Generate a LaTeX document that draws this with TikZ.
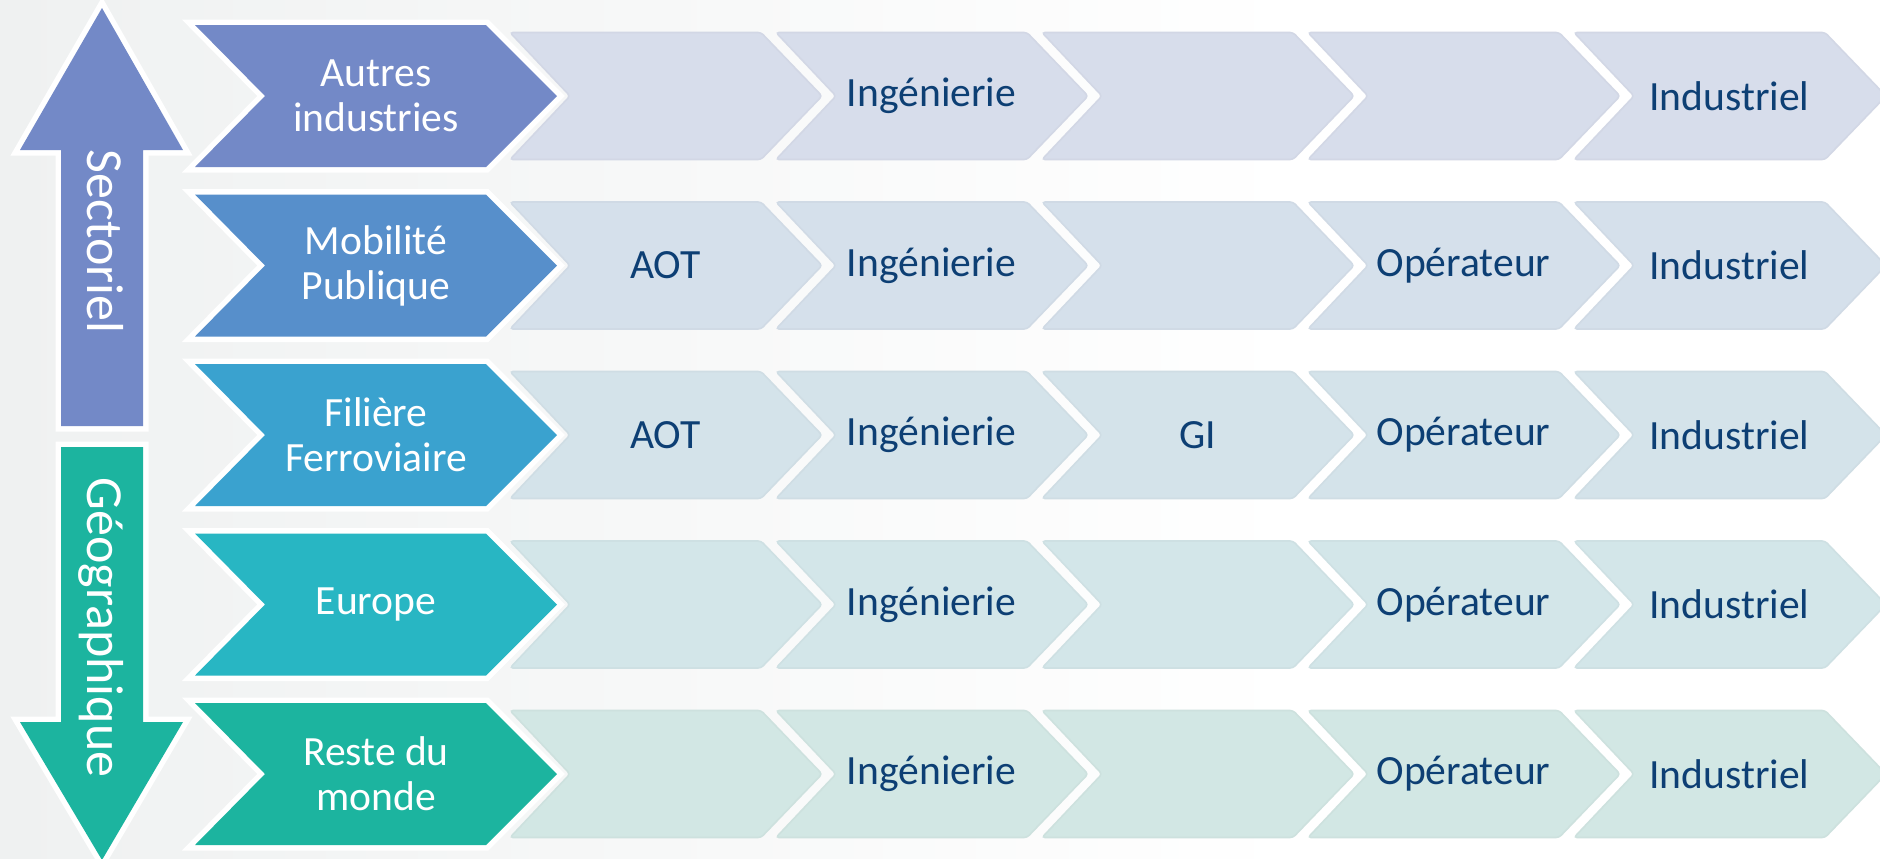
\documentclass[tikz,border=0pt]{standalone}
\usepackage{fontspec}
\setmainfont{Carlito}
\definecolor{bggray}{HTML}{EFF1F1}
\definecolor{ca}{HTML}{7389C7}
\definecolor{cb}{HTML}{578FCB}
\definecolor{cc}{HTML}{3AA2CF}
\definecolor{cd}{HTML}{28B6C3}
\definecolor{ce}{HTML}{1CB49F}
\definecolor{la}{HTML}{D7DDEB}
\definecolor{lb}{HTML}{D5E0EB}
\definecolor{lc}{HTML}{D4E3EA}
\definecolor{ld}{HTML}{D3E6E9}
\definecolor{le}{HTML}{D2E7E4}
\definecolor{navy}{HTML}{0D3F74}
\tikzset{
  bigtxt/.style={text=white, align=center, font=\fontsize{20.8}{22.5}\selectfont},
  smalltxt/.style={text=navy, font=\fontsize{20.8}{22.5}\selectfont},
  sidetxt/.style={text=white, rotate=-90, anchor=base, font=\fontsize{26}{30}\selectfont},
  outline/.style={preaction={draw=white, line width=5.5pt, line join=miter}},
}
\begin{document}
\begin{tikzpicture}[x=0.5pt,y=-0.5pt]
\useasboundingbox (0,0) rectangle (1880,858);
\clip (0,0) rectangle (1880,858);
\fill[white] (0,0) rectangle (1880,858);
\shade[left color=bggray, right color=white, middle color=bggray!50!white] (0,0) rectangle (1300,858);

% side arrows
\path[fill=ca, outline] (61,426) -- (61,150) -- (20,150) -- (102,8) -- (183,150) -- (143,150) -- (143,426) -- cycle;
\path[fill=ce, outline] (61,447) -- (61,722) -- (20,722) -- (102,860) -- (183,722) -- (143,722) -- (143,447) -- cycle;
\node[sidetxt] (sect) at (87,241.5) {Sectoriel};
\node[sidetxt] (geo) at (87,627.5) {Géographique};

% chevron rows
\foreach \yc/\dk/\lt in {96/ca/la, 265.5/cb/lb, 435/cc/lc, 604.5/cd/ld, 774/ce/le} {
  \path[fill=\dk, outline] (195,\yc-71) -- (486,\yc-71) -- (557,\yc) -- (486,\yc+71) -- (195,\yc+71) -- (265,\yc) -- cycle;
  \foreach \k in {0,...,4} {
    \pgfmathsetmacro\xl{510+266*\k}
    \path[fill=\lt, draw=\lt!94!gray, line width=0.8pt, rounded corners=1.5pt]
      (\xl,\yc-63.5) -- (\xl+251,\yc-63.5) -- (\xl+312,\yc) -- (\xl+251,\yc+63.5)
      -- (\xl,\yc+63.5) -- (\xl+60,\yc) -- cycle;
  }
}

% labels of the coloured chevrons
\node[bigtxt] (r1) at (376,96) {Autres\\industries};
\node[bigtxt] (r2) at (376,265.5) {Mobilité\\Publique};
\node[bigtxt] (r3) at (376,435) {Filière\\Ferroviaire};
\node[bigtxt] (r4) at (376,604.5) {Europe};
\node[bigtxt] (r5) at (376,774) {Reste du\\monde};

% labels of the light chevrons (centres 665.5 + 266 k)
\node[smalltxt] (r1c2) at (931.5,96) {Ingénierie};
\node[smalltxt] (r1c5) at (1729.5,96) {Industriel};

\node[smalltxt] (r2c1) at (665.5,265.5) {AOT};
\node[smalltxt] (r2c2) at (931.5,265.5) {Ingénierie};
\node[smalltxt] (r2c4) at (1463.5,265.5) {Opérateur};
\node[smalltxt] (r2c5) at (1729.5,265.5) {Industriel};

\node[smalltxt] (r3c1) at (665.5,435) {AOT};
\node[smalltxt] (r3c2) at (931.5,435) {Ingénierie};
\node[smalltxt] (r3c3) at (1197.5,435) {GI};
\node[smalltxt] (r3c4) at (1463.5,435) {Opérateur};
\node[smalltxt] (r3c5) at (1729.5,435) {Industriel};

\node[smalltxt] (r4c2) at (931.5,604.5) {Ingénierie};
\node[smalltxt] (r4c4) at (1463.5,604.5) {Opérateur};
\node[smalltxt] (r4c5) at (1729.5,604.5) {Industriel};

\node[smalltxt] (r5c2) at (931.5,774) {Ingénierie};
\node[smalltxt] (r5c4) at (1463.5,774) {Opérateur};
\node[smalltxt] (r5c5) at (1729.5,774) {Industriel};
\end{tikzpicture}
\end{document}
